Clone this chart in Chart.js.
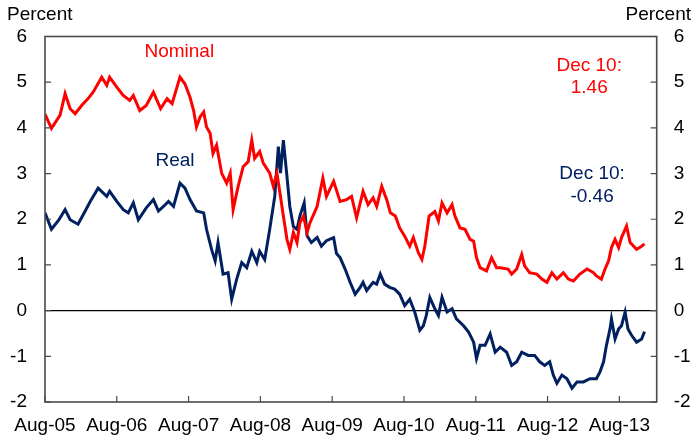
<!DOCTYPE html>
<html>
<head>
<meta charset="utf-8">
<script src="https://cdn.jsdelivr.net/npm/chart.js@4.4.1/dist/chart.umd.min.js"></script>
<style>
  html, body { margin: 0; padding: 0; background: #fff; }
  #wrap { width: 692px; height: 446px; position: relative; }
</style>
</head>
<body>
<div id="wrap"><canvas id="chart"></canvas></div>
<script>
// x values are years since Aug-05
const xTickLabels = ['Aug-05', 'Aug-06', 'Aug-07', 'Aug-08', 'Aug-09', 'Aug-10', 'Aug-11', 'Aug-12', 'Aug-13'];
const yTickValues = [-2, -1, 0, 1, 2, 3, 4, 5, 6];

const nominalYears = [
    0.00, 0.09, 0.21, 0.28, 0.35, 0.42, 0.51, 0.60, 0.67, 0.79, 0.86, 0.90, 1.00, 1.09, 1.18, 1.23,
    1.32, 1.41, 1.51, 1.61, 1.70, 1.77, 1.88, 1.95, 2.02, 2.07, 2.11, 2.16, 2.21, 2.25, 2.30, 2.34,
    2.39, 2.46, 2.53, 2.58, 2.62, 2.69, 2.76, 2.83, 2.88, 2.92, 2.99, 3.04, 3.13, 3.18, 3.23, 3.28,
    3.32, 3.37, 3.41, 3.46, 3.51, 3.55, 3.60, 3.65, 3.69, 3.79, 3.87, 3.92, 4.02, 4.11, 4.20, 4.27,
    4.34, 4.43, 4.50, 4.57, 4.62, 4.69, 4.76, 4.81, 4.88, 4.94, 5.01, 5.08, 5.13, 5.20, 5.25, 5.29,
    5.35, 5.43, 5.48, 5.53, 5.60, 5.67, 5.71, 5.78, 5.85, 5.92, 5.97, 6.01, 6.06, 6.15, 6.22, 6.29,
    6.34, 6.45, 6.50, 6.57, 6.64, 6.68, 6.75, 6.85, 6.92, 6.99, 7.06, 7.13, 7.22, 7.29, 7.36, 7.45,
    7.55, 7.64, 7.68, 7.75, 7.80, 7.85, 7.89, 7.94, 7.99, 8.03, 8.10, 8.15, 8.24, 8.31, 8.35
];
const nominalRates = [
    4.30, 3.99, 4.28, 4.75, 4.42, 4.31, 4.49, 4.64, 4.78, 5.11, 4.93, 5.11, 4.89, 4.71, 4.60, 4.71,
    4.38, 4.49, 4.78, 4.42, 4.64, 4.53, 5.11, 4.96, 4.67, 4.38, 4.02, 4.24, 4.35, 4.02, 3.88, 3.44,
    3.62, 3.01, 2.79, 3.01, 2.21, 2.72, 3.15, 3.26, 3.73, 3.33, 3.48, 3.23, 3.01, 2.72, 3.01, 2.50,
    2.07, 1.56, 1.34, 1.71, 1.49, 1.92, 2.07, 1.71, 1.92, 2.28, 2.90, 2.50, 2.83, 2.39, 2.43, 2.50,
    2.03, 2.61, 2.32, 2.47, 2.28, 2.72, 2.43, 2.14, 2.07, 1.81, 1.63, 1.41, 1.60, 1.27, 1.12, 1.41,
    2.07, 2.17, 1.96, 2.36, 2.14, 2.32, 2.07, 1.81, 1.78, 1.56, 1.52, 1.16, 0.94, 0.87, 1.16, 0.94,
    0.94, 0.91, 0.80, 0.91, 1.23, 0.98, 0.83, 0.80, 0.69, 0.62, 0.83, 0.69, 0.83, 0.69, 0.65, 0.80,
    0.91, 0.83, 0.76, 0.69, 0.91, 1.09, 1.38, 1.56, 1.38, 1.60, 1.85, 1.49, 1.34, 1.41, 1.46
];

const realYears = [
    0.00, 0.09, 0.19, 0.28, 0.35, 0.46, 0.56, 0.63, 0.74, 0.86, 0.90, 1.00, 1.09, 1.16, 1.23, 1.30,
    1.41, 1.51, 1.58, 1.65, 1.72, 1.79, 1.88, 1.95, 2.02, 2.11, 2.21, 2.25, 2.32, 2.37, 2.41, 2.48,
    2.55, 2.60, 2.67, 2.74, 2.81, 2.88, 2.95, 2.99, 3.06, 3.13, 3.20, 3.25, 3.28, 3.32, 3.37, 3.41,
    3.46, 3.51, 3.55, 3.61, 3.65, 3.71, 3.79, 3.85, 3.92, 4.02, 4.06, 4.11, 4.18, 4.25, 4.32, 4.39,
    4.43, 4.48, 4.57, 4.62, 4.67, 4.73, 4.80, 4.87, 4.94, 5.01, 5.08, 5.15, 5.22, 5.27, 5.31, 5.36,
    5.43, 5.48, 5.53, 5.60, 5.67, 5.73, 5.83, 5.90, 5.97, 6.01, 6.06, 6.13, 6.20, 6.27, 6.34, 6.43,
    6.50, 6.57, 6.64, 6.73, 6.82, 6.89, 6.96, 7.03, 7.08, 7.13, 7.20, 7.27, 7.34, 7.41, 7.50, 7.59,
    7.68, 7.73, 7.78, 7.82, 7.87, 7.89, 7.94, 7.99, 8.03, 8.08, 8.12, 8.17, 8.24, 8.31, 8.35
];
const realRates = [
    2.14, 1.78, 1.98, 2.21, 1.99, 1.89, 2.18, 2.39, 2.68, 2.50, 2.61, 2.39, 2.21, 2.14, 2.36, 1.99,
    2.25, 2.43, 2.18, 2.28, 2.39, 2.28, 2.79, 2.68, 2.43, 2.18, 2.14, 1.78, 1.34, 1.09, 1.49, 0.80,
    0.83, 0.25, 0.69, 1.05, 0.94, 1.30, 1.05, 1.30, 1.12, 1.78, 2.50, 3.59, 3.01, 3.73, 2.94, 2.28,
    1.84, 1.78, 2.07, 2.36, 1.64, 1.49, 1.60, 1.41, 1.53, 1.60, 1.25, 1.16, 0.91, 0.62, 0.36, 0.51,
    0.62, 0.44, 0.62, 0.58, 0.80, 0.58, 0.51, 0.47, 0.36, 0.11, 0.25, -0.03, -0.43, -0.33, -0.11, 0.29,
    0.04, -0.11, 0.29, -0.03, 0.04, -0.18, -0.33, -0.47, -0.69, -1.05, -0.76, -0.76, -0.51, -0.91, -0.80, -0.91,
    -1.20, -1.12, -0.91, -0.98, -0.98, -1.12, -1.20, -1.12, -1.41, -1.59, -1.41, -1.49, -1.70, -1.56, -1.56, -1.49,
    -1.49, -1.34, -1.12, -0.76, -0.40, -0.18, -0.62, -0.40, -0.33, -0.03, -0.40, -0.54, -0.69, -0.62, -0.46
];

const RED = '#ff0000';
const NAVY = '#002060';
const FONT = 'Liberation Sans, Arial, sans-serif';

// text labels placed in data coordinates
const notes = [
    { text: 'Nominal', x: 1.87, y: 5.67, color: RED },
    { text: 'Real', x: 1.81, y: 3.27, color: NAVY },
    { text: 'Dec 10:', x: 7.58, y: 5.37, color: RED },
    { text: '1.46', x: 7.58, y: 4.88, color: RED },
    { text: 'Dec 10:', x: 7.62, y: 2.99, color: NAVY },
    { text: '-0.46', x: 7.62, y: 2.50, color: NAVY },
];

const framePlugin = {
    id: 'frame',
    beforeDatasetsDraw(chart) {
        const { ctx, chartArea: a, scales } = chart;
        const y0 = scales.y.getPixelForValue(0);
        ctx.save();
        ctx.strokeStyle = '#000';
        ctx.lineWidth = 1.2;
        ctx.beginPath();
        ctx.moveTo(a.left, y0); ctx.lineTo(a.right, y0);
        ctx.stroke();
        ctx.restore();
    },
    afterDraw(chart) {
        const { ctx, chartArea: a, scales } = chart;
        ctx.save();
        ctx.strokeStyle = '#4a4a4a';
        ctx.lineWidth = 1.6;
        ctx.strokeRect(a.left, a.top, a.right - a.left, a.bottom - a.top);

        // inward tick marks
        const len = 6;
        ctx.lineWidth = 1.2;
        ctx.beginPath();
        yTickValues.forEach(v => {
            const py = scales.y.getPixelForValue(v);
            ctx.moveTo(a.left, py); ctx.lineTo(a.left + len, py);
            ctx.moveTo(a.right, py); ctx.lineTo(a.right - len, py);
        });
        xTickLabels.forEach((_, i) => {
            const px = scales.x.getPixelForValue(i);
            ctx.moveTo(px, a.bottom); ctx.lineTo(px, a.bottom - len);
        });
        ctx.stroke();

        // notes
        ctx.font = '19px ' + FONT;
        ctx.textAlign = 'center';
        ctx.textBaseline = 'middle';
        notes.forEach(n => {
            ctx.fillStyle = n.color;
            ctx.fillText(n.text, scales.x.getPixelForValue(n.x), scales.y.getPixelForValue(n.y));
        });

        // unit labels
        ctx.fillStyle = '#000';
        ctx.textAlign = 'left';
        ctx.fillText('Percent', 7, 15);
        ctx.textAlign = 'right';
        ctx.fillText('Percent', 691, 15);
        ctx.restore();
    }
};

const toPoints = (xs, ys) => xs.map((x, i) => ({ x, y: ys[i] }));

const yAxis = (position, padding, width) => ({
    type: 'linear',
    position,
    min: -2, max: 6,
    afterBuildTicks: s => { s.ticks = yTickValues.map(v => ({ value: v })); },
    afterFit: s => { s.width = width; },
    grid: { display: false, drawTicks: false },
    border: { display: false },
    ticks: { color: '#000', padding, font: { size: 19, family: FONT } }
});

new Chart(document.getElementById('chart'), {
    type: 'line',
    data: {
        datasets: [
            {
                label: 'Nominal',
                data: toPoints(nominalYears, nominalRates),
                borderColor: RED, borderWidth: 3,
                pointRadius: 0, tension: 0, fill: false,
            },
            {
                label: 'Real',
                data: toPoints(realYears, realRates),
                borderColor: NAVY, borderWidth: 3,
                pointRadius: 0, tension: 0, fill: false,
            }
        ]
    },
    options: {
        responsive: true,
        maintainAspectRatio: false,
        animation: false,
        layout: { padding: { top: 36.5, left: 0, right: 0, bottom: 0 } },
        plugins: { legend: { display: false }, tooltip: { enabled: false } },
        scales: {
            x: {
                type: 'linear',
                min: 0, max: 8.52,
                afterBuildTicks: s => { s.ticks = xTickLabels.map((_, i) => ({ value: i })); },
                afterFit: s => { s.height = 44; },
                grid: { display: false, drawTicks: false },
                border: { display: false },
                ticks: {
                    color: '#000', padding: 12, maxRotation: 0, autoSkip: false,
                    font: { size: 19, family: FONT },
                    callback: v => xTickLabels[v]
                }
            },
            y: yAxis('left', 18, 45),
            y2: yAxis('right', 17, 35.3)
        }
    },
    plugins: [framePlugin]
});
</script>
</body>
</html>
